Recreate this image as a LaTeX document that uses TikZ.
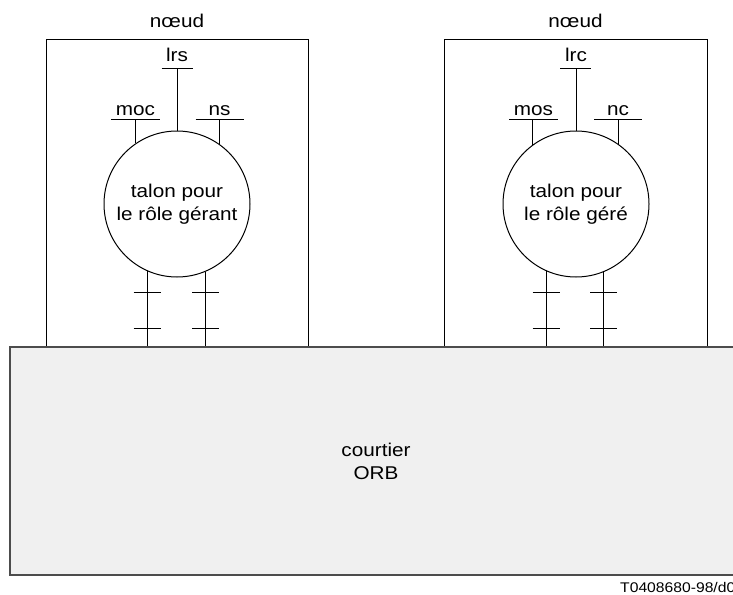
\documentclass[tikz,border=0pt]{standalone}
\usepackage{fontspec}
\setmainfont{Liberation Sans}[FakeStretch=1.12]
\begin{document}
\begin{tikzpicture}[x=1pt,y=-1pt,
  every node/.style={font=\fontsize{18.5}{23}\selectfont},
  nodebox/.style={draw, line width=1pt, minimum width=262pt, minimum height=307pt, inner sep=0pt},
  stub/.style={draw, circle, line width=1pt, minimum size=146pt, inner sep=0pt, align=center},
  orbbox/.style={draw=black!70, fill=black!6, line width=1.3pt, minimum width=732pt, minimum height=228pt, align=center, inner sep=0pt},
  wire/.style={line width=1pt},
  lbl/.style={anchor=base, inner sep=0pt}
]
\useasboundingbox (0,0) rectangle (733,594);
\clip (0,0) rectangle (733,594);

% node boxes
\node[nodebox] (nodeL) at (177,193.5) {};
\node[nodebox, minimum width=263pt] (nodeR) at (575.5,193.5) {};
\node[lbl] (nlabL) at (177,28) {nœud};
\node[lbl] (nlabR) at (575.5,28) {nœud};

% stubs
\node[stub] (stubL) at (177,204) {talon pour\\le rôle gérant};
\node[stub] (stubR) at (576,204) {talon pour\\le rôle géré};

% ORB
\node[orbbox] (orb) at (376,461) {courtier\\ORB};

% left interfaces
\coordinate (lrsL) at (177,68);
\coordinate (lrsLa) at (161.5,68);
\coordinate (lrsLb) at (192.5,68);
\draw[wire] (stubL.north) -- (lrsL);
\draw[wire] (lrsLa) -- (lrsLb);
\node[lbl] (lrsT) at (177,61) {lrs};

\coordinate (mocL) at (135.5,119.5);
\coordinate (mocLa) at (111,119.5);
\coordinate (mocLb) at (160,119.5);
\draw[wire] (stubL.124.5) -- (stubL.124.5 |- mocL);
\draw[wire] (mocLa) -- (mocLb);
\node[lbl] (mocT) at (135.5,115) {moc};

\coordinate (nsL) at (219.5,119.5);
\coordinate (nsLa) at (195.5,119.5);
\coordinate (nsLb) at (244,119.5);
\draw[wire] (stubL.55) -- (stubL.55 |- nsL);
\draw[wire] (nsLa) -- (nsLb);
\node[lbl] (nsT) at (219.5,115) {ns};

% right interfaces
\coordinate (lrcR) at (576,68);
\coordinate (lrcRa) at (560,68);
\coordinate (lrcRb) at (591,68);
\draw[wire] (stubR.north) -- (lrcR);
\draw[wire] (lrcRa) -- (lrcRb);
\node[lbl] (lrcT) at (576,61) {lrc};

\coordinate (mosR) at (533.5,119.5);
\coordinate (mosRa) at (509,119.5);
\coordinate (mosRb) at (558,119.5);
\draw[wire] (stubR.126) -- (stubR.126 |- mosR);
\draw[wire] (mosRa) -- (mosRb);
\node[lbl] (mosT) at (533.5,115) {mos};

\coordinate (ncR) at (618,119.5);
\coordinate (ncRa) at (594,119.5);
\coordinate (ncRb) at (642,119.5);
\draw[wire] (stubR.55.5) -- (stubR.55.5 |- ncR);
\draw[wire] (ncRa) -- (ncRb);
\node[lbl] (ncT) at (618,115) {nc};

% legs to ORB with ticks
\foreach \s/\a in {stubL/246.6, stubL/293.4, stubR/246.6, stubR/292.6}{
  \draw[wire] (\s.\a) -- (\s.\a |- orb.north);
  \draw[wire] ([xshift=-13.5pt]\s.\a |- 0,292) -- ([xshift=13.5pt]\s.\a |- 0,292);
  \draw[wire] ([xshift=-13.5pt]\s.\a |- 0,328.5) -- ([xshift=13.5pt]\s.\a |- 0,328.5);
}

% redraw ORB top border over legs
\draw[draw=black!70, line width=1.3pt] (orb.north west) -- (orb.north east);

\node[anchor=base west, inner sep=0pt, font=\fontsize{14}{16}\selectfont] (ref) at (620,592.5) {T0408680-98/d0};
\end{tikzpicture}
\end{document}
